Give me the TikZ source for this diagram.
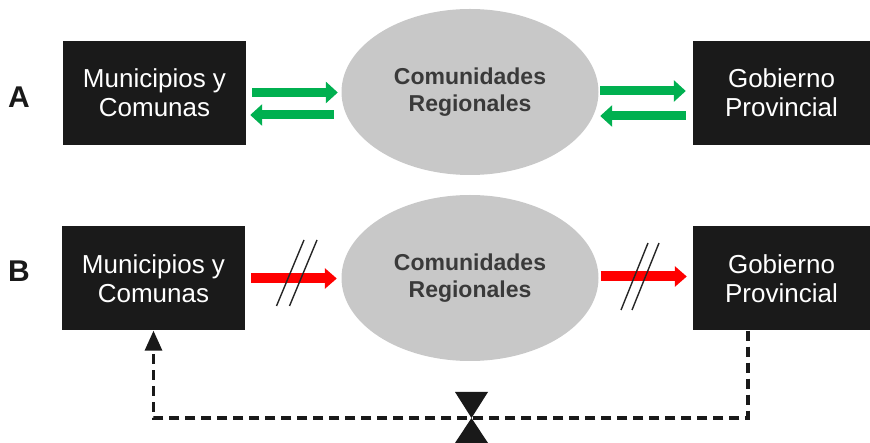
\documentclass[tikz,border=0pt]{standalone}
\usepackage{fontspec}
\setmainfont{Liberation Sans}
\usetikzlibrary{shapes.geometric,arrows.meta}
\definecolor{boxfill}{HTML}{1A1A1A}
\definecolor{ellfill}{HTML}{C8C8C8}
\definecolor{ellText}{HTML}{3A3A3A}
\definecolor{gArrow}{HTML}{00B050}
\definecolor{rArrow}{HTML}{FF0000}
\tikzset{
  darkbox/.style={fill=boxfill, text=white, inner sep=0pt, align=center,
    minimum height=104pt, font=\fontsize{26}{29}\selectfont},
  regionell/.style={ellipse, fill=ellfill, inner sep=0pt, minimum width=257pt,
    minimum height=166pt, align=center, text=ellText,
    font=\bfseries\fontsize{23}{27}\selectfont},
  rowlabel/.style={font=\bfseries\fontsize{30}{30}\selectfont, text=black!90},
  garrow/.style={draw=gArrow, line width=9pt, -{Triangle[length=12pt,width=21pt]}},
  rarrow/.style={draw=rArrow, line width=10pt, -{Triangle[length=12pt,width=20pt]}},
  slashline/.style={draw=black!85, line width=1.4pt},
  dashline/.style={draw=black!90, line width=3.2pt, dash pattern=on 10pt off 6pt},
}
\begin{document}
\begin{tikzpicture}[x=1pt,y=-1pt]
\useasboundingbox (0,0) rectangle (870,443);
% row A
\node[rowlabel] (la) at (19,97) {A};
\node[darkbox, minimum width=183pt] (m1) at (154.5,93) {Municipios y\\Comunas};
\node[regionell] (c1) at (470,92) {Comunidades\\Regionales};
\node[darkbox, minimum width=177pt] (r1) at (781.5,93) {Gobierno\\Provincial};
% row B
\node[rowlabel] (lb) at (19,271) {B};
\node[darkbox, minimum width=183pt] (m2) at (153.5,278.5) {Municipios y\\Comunas};
\node[regionell] (c2) at (470,278) {Comunidades\\Regionales};
\node[darkbox, minimum width=177pt] (r2) at (781.5,278.5) {Gobierno\\Provincial};
% green arrows
\draw[garrow, shorten <=6pt, shorten >=3.5pt] ([yshift=0.5pt]m1.east) -- ([yshift=0.5pt]m1.east -| c1.west);
\draw[garrow, shorten <=7.5pt, shorten >=4pt] ([yshift=-22pt]m1.east -| c1.west) -- ([yshift=-22pt]m1.east);
\draw[garrow, shorten <=1.5pt, shorten >=7pt] ([yshift=2pt]r1.west -| c1.east) -- ([yshift=2pt]r1.west);
\draw[garrow, shorten <=7pt, shorten >=1.5pt] ([yshift=-23pt]r1.west) -- ([yshift=-23pt]r1.west -| c1.east);
% red arrows
\draw[rarrow, shorten <=6pt, shorten >=4.5pt] (m2.east) -- (m2.east -| c2.west);
\draw[rarrow, shorten <=2pt, shorten >=6pt] ([yshift=2pt]r2.west -| c2.east) -- ([yshift=2pt]r2.west);
% break marks
\draw[slashline] (276.5,306) -- (304,240);
\draw[slashline] (289.5,306) -- (317,240);
\draw[slashline] (621,310) -- (648,243);
\draw[slashline] (632,310) -- (659,243);
% dashed feedback line with valve
\coordinate (valve) at (471.5,418);
\draw[dashline, -{Triangle[length=20pt,width=17pt]}] ([xshift=-33.5pt]r2.south) |- (valve) -| (m2.south);
\fill[black!90] (455,392) -- (488,392) -- (valve) -- cycle;
\fill[black!90] (valve) -- (488,443) -- (455,443) -- cycle;
\end{tikzpicture}
\end{document}
